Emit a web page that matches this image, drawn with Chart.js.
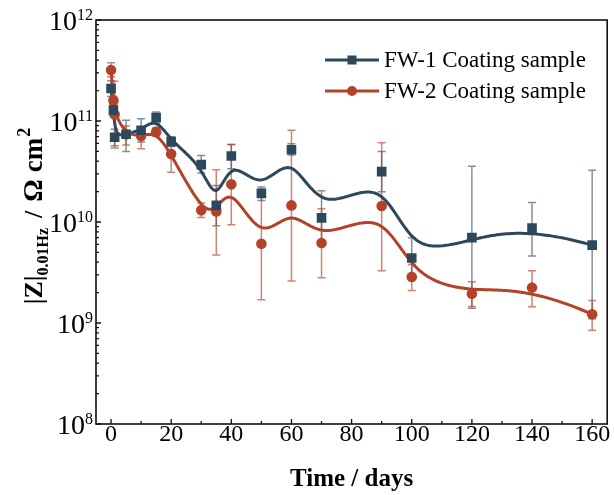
<!DOCTYPE html>
<html><head><meta charset="utf-8">
<script src="https://cdn.jsdelivr.net/npm/chart.js@4/dist/chart.umd.min.js"></script>
<style>html,body{margin:0;padding:0;background:#fff}#wrap{width:614px;height:495px;position:relative}</style>
</head><body><div id="wrap"><canvas id="c"></canvas></div>
<script>
// ---- data ----
const days = [0, 0.8, 1.2, 5, 10, 15, 20, 30, 35, 40, 50, 60, 70, 90, 100, 120, 140, 160];
const fw1 = [2.1e11, 1.28e11, 6.9e10, 7.4e10, 8.1e10, 1.08e11, 6.25e10, 3.7e10, 1.46e10, 4.5e10, 1.92e10, 5.2e10, 1.1e10, 3.15e10, 4.4e9, 7.0e9, 8.7e9, 5.9e9];
const fw1Hi = [2.5e11, 1.45e11, 8.3e10, 1.02e11, 1.05e11, 1.23e11, 7.0e10, 4.55e10, 2.3e10, 5.85e10, 2.22e10, 5.95e10, 2.04e10, 5.0e10, 7.0e9, 3.56e10, 1.56e10, 3.25e10];
const fw1Lo = [1.75e11, 1.12e11, 5.7e10, 5.0e10, 6.2e10, 9.5e10, 5.6e10, 3.06e10, 9.2e9, 3.36e10, 1.63e10, 4.6e10, 6.0e9, 1.99e10, 2.8e9, 1.4e9, 4.6e9, 1.1e9];
const fw2 = [3.2e11, 1.6e11, 1.16e11, 7.4e10, 7.1e10, 7.8e10, 4.7e10, 1.31e10, 1.27e10, 2.36e10, 6.1e9, 1.46e10, 6.2e9, 1.44e10, 2.86e9, 1.95e9, 2.24e9, 1.22e9];
const fw2Hi = [3.78e11, 1.75e11, 2.48e11, 8.9e10, 8.7e10, 8.6e10, 6.3e10, 1.54e10, 3.3e10, 5.85e10, 2.1e10, 8.1e10, 1.35e10, 6.1e10, 3.8e9, 2.56e9, 3.3e9, 1.67e9];
const fw2Lo = [2.74e11, 1.45e11, 5.4e10, 5.8e10, 5.3e10, 7.1e10, 3.1e10, 1.11e10, 4.7e9, 9.4e9, 1.7e9, 2.6e9, 2.8e9, 3.3e9, 2.1e9, 1.46e9, 1.45e9, 8.5e8];
const seriesNames = ['FW-1 Coating sample', 'FW-2 Coating sample'];
const xTicks = [0, 20, 40, 60, 80, 100, 120, 140, 160];
const yExponents = [8, 9, 10, 11, 12];

const C1 = 'rgb(44,72,90)';
const C2 = 'rgb(180,66,40)';
const C1e = 'rgba(44,72,90,0.6)';
const C2e = 'rgba(180,66,40,0.65)';
const SERIF = '"Liberation Serif", "Times New Roman", serif';

function bspline(pts, samples) {
  const n = pts.length, k = 3, m = n - k;
  const knots = [];
  for (let i = 0; i <= k; i++) knots.push(0);
  for (let i = 1; i < m; i++) knots.push(i);
  for (let i = 0; i <= k; i++) knots.push(m);
  const out = [];
  for (let s = 0; s < samples; s++) {
    const u = s / samples * m;
    let j = k; while (j < n - 1 && knots[j + 1] <= u) j++;
    const d = []; for (let i = 0; i <= k; i++) d.push({x: pts[j - k + i].x, y: pts[j - k + i].y});
    for (let r = 1; r <= k; r++) {
      for (let i = k; i >= r; i--) {
        const idx = j - k + i;
        const a = (u - knots[idx]) / (knots[idx + k + 1 - r] - knots[idx]);
        d[i] = {x: (1 - a) * d[i - 1].x + a * d[i].x, y: (1 - a) * d[i - 1].y + a * d[i].y};
      }
    }
    out.push(d[k]);
  }
  out.push(pts[n - 1]);
  return out;
}

const decor = {
  id: 'decor',
  beforeDatasetsDraw(chart) {
    const ctx = chart.ctx, xs = chart.scales.x, ys = chart.scales.y;
    const X = v => xs.getPixelForValue(v), Y = v => ys.getPixelForValue(v);
    ctx.save();
    const bars = [[fw1Hi, fw1Lo, C1e], [fw2Hi, fw2Lo, C2e]];
    bars.forEach(([hi, lo, col]) => {
      ctx.strokeStyle = col; ctx.lineWidth = 1.5;
      days.forEach((t, i) => {
        const x = X(t), y1 = Y(hi[i]), y2 = Y(lo[i]);
        ctx.beginPath();
        ctx.moveTo(x, y1); ctx.lineTo(x, y2);
        ctx.moveTo(x - 4, y1); ctx.lineTo(x + 4, y1);
        ctx.moveTo(x - 4, y2); ctx.lineTo(x + 4, y2);
        ctx.stroke();
      });
    });
    [[fw1, C1], [fw2, C2]].forEach(([vals, col]) => {
      const pts = days.map((t, i) => ({x: X(t), y: Y(vals[i])}));
      const curve = bspline(pts, 600);
      ctx.strokeStyle = col; ctx.lineWidth = 3; ctx.lineJoin = 'round'; ctx.lineCap = 'round';
      ctx.beginPath();
      curve.forEach((p, i) => i ? ctx.lineTo(p.x, p.y) : ctx.moveTo(p.x, p.y));
      ctx.stroke();
    });
    ctx.restore();
  },
  afterDraw(chart) {
    const ctx = chart.ctx, xs = chart.scales.x, ys = chart.scales.y, a = chart.chartArea;
    ctx.save();
    ctx.strokeStyle = '#111'; ctx.lineWidth = 1.6;
    ctx.strokeRect(a.left, a.top, a.right - a.left, a.bottom - a.top);
    ctx.lineWidth = 1.3;
    ctx.beginPath();
    for (let v = 0; v <= 160; v += 10) {
      const x = xs.getPixelForValue(v), len = (v % 20 === 0) ? 5 : 3;
      ctx.moveTo(x, a.bottom); ctx.lineTo(x, a.bottom - len);
    }
    for (let e = 8; e <= 12; e++) {
      for (let m = 1; m <= 9; m++) {
        if (e === 12 && m > 1) break;
        const y = ys.getPixelForValue(m * Math.pow(10, e)), len = m === 1 ? 5 : 3;
        ctx.moveTo(a.left, y); ctx.lineTo(a.left + len, y);
      }
    }
    ctx.stroke();
    ctx.fillStyle = '#000';
    ctx.font = '24px ' + SERIF; ctx.textAlign = 'center'; ctx.textBaseline = 'alphabetic';
    xTicks.forEach(v => ctx.fillText(String(v), xs.getPixelForValue(v), 441));
    yExponents.forEach(e => {
      const y = ys.getPixelForValue(Math.pow(10, e));
      ctx.font = '16px ' + SERIF;
      const sw = ctx.measureText(String(e)).width;
      ctx.textAlign = 'right';
      ctx.fillText(String(e), 93, y);
      ctx.font = '28px ' + SERIF;
      ctx.fillText('10', 93 - sw, y + 10);
    });
    ctx.font = 'bold 25px ' + SERIF; ctx.textAlign = 'center';
    ctx.fillText('Time / days', (a.left + a.right) / 2, 486);
    // y title (rotated, with sub/superscript)
    const parts = [
      {t: '|Z|', f: 'bold 26px ', dy: 0, gap: 0},
      {t: '0.01Hz', f: 'bold 16px ', dy: 6, gap: 0},
      {t: '/', f: 'bold 26px ', dy: 0, gap: 10},
      {t: '\u03A9', f: 'bold 28px ', dy: 0, gap: 9},
      {t: 'cm', f: 'bold 27px ', dy: 0, gap: 7},
      {t: '2', f: 'bold 18px ', dy: -12, gap: 1}
    ];
    let total = 0;
    parts.forEach(p => { ctx.font = p.f + SERIF; p.w = ctx.measureText(p.t).width; total += p.w + p.gap; });
    ctx.translate(42, 216);
    ctx.rotate(-Math.PI / 2);
    ctx.textAlign = 'left';
    let cx = -total / 2;
    parts.forEach(p => { cx += p.gap; ctx.font = p.f + SERIF; ctx.fillText(p.t, cx, p.dy); cx += p.w; });
    ctx.restore();
    // legend
    ctx.save();
    const rows = [[C1, 'rect', 60], [C2, 'circle', 91]];
    rows.forEach(([col, shape, y], i) => {
      ctx.strokeStyle = col; ctx.lineWidth = 3;
      ctx.beginPath(); ctx.moveTo(325, y); ctx.lineTo(379, y); ctx.stroke();
      ctx.fillStyle = col;
      if (shape === 'rect') ctx.fillRect(352 - 4.5, y - 4.5, 9, 9);
      else { ctx.beginPath(); ctx.arc(352, y, 5, 0, Math.PI * 2); ctx.fill(); }
      ctx.fillStyle = '#000'; ctx.font = '23px ' + SERIF; ctx.textAlign = 'left'; ctx.textBaseline = 'middle';
      ctx.fillText(seriesNames[i], 384, y + 1);
    });
    ctx.restore();
  }
};

new Chart(document.getElementById('c'), {
  type: 'scatter',
  data: {
    datasets: [
      {label: seriesNames[0], data: days.map((t, i) => ({x: t, y: fw1[i]})), pointStyle: 'rect', pointRadius: 6.8,
       backgroundColor: C1, borderColor: C1, borderWidth: 0, showLine: false},
      {label: seriesNames[1], data: days.map((t, i) => ({x: t, y: fw2[i]})), pointStyle: 'circle', pointRadius: 5.3,
       backgroundColor: C2, borderColor: C2, borderWidth: 0, showLine: false}
    ]
  },
  options: {
    responsive: true, maintainAspectRatio: false, animation: false,
    layout: {padding: {top: 20, right: 5, left: 0, bottom: 0}},
    plugins: {legend: {display: false}, tooltip: {enabled: false}},
    scales: {
      x: {type: 'linear', min: -5, max: 165, grid: {display: false}, border: {display: false},
          ticks: {display: false}, afterFit(s) { s.height = 71; }},
      y: {type: 'logarithmic', min: 1e8, max: 1e12, grid: {display: false}, border: {display: false},
          ticks: {display: false}, afterFit(s) { s.width = 96; }}
    }
  },
  plugins: [decor]
});
</script></body></html>
